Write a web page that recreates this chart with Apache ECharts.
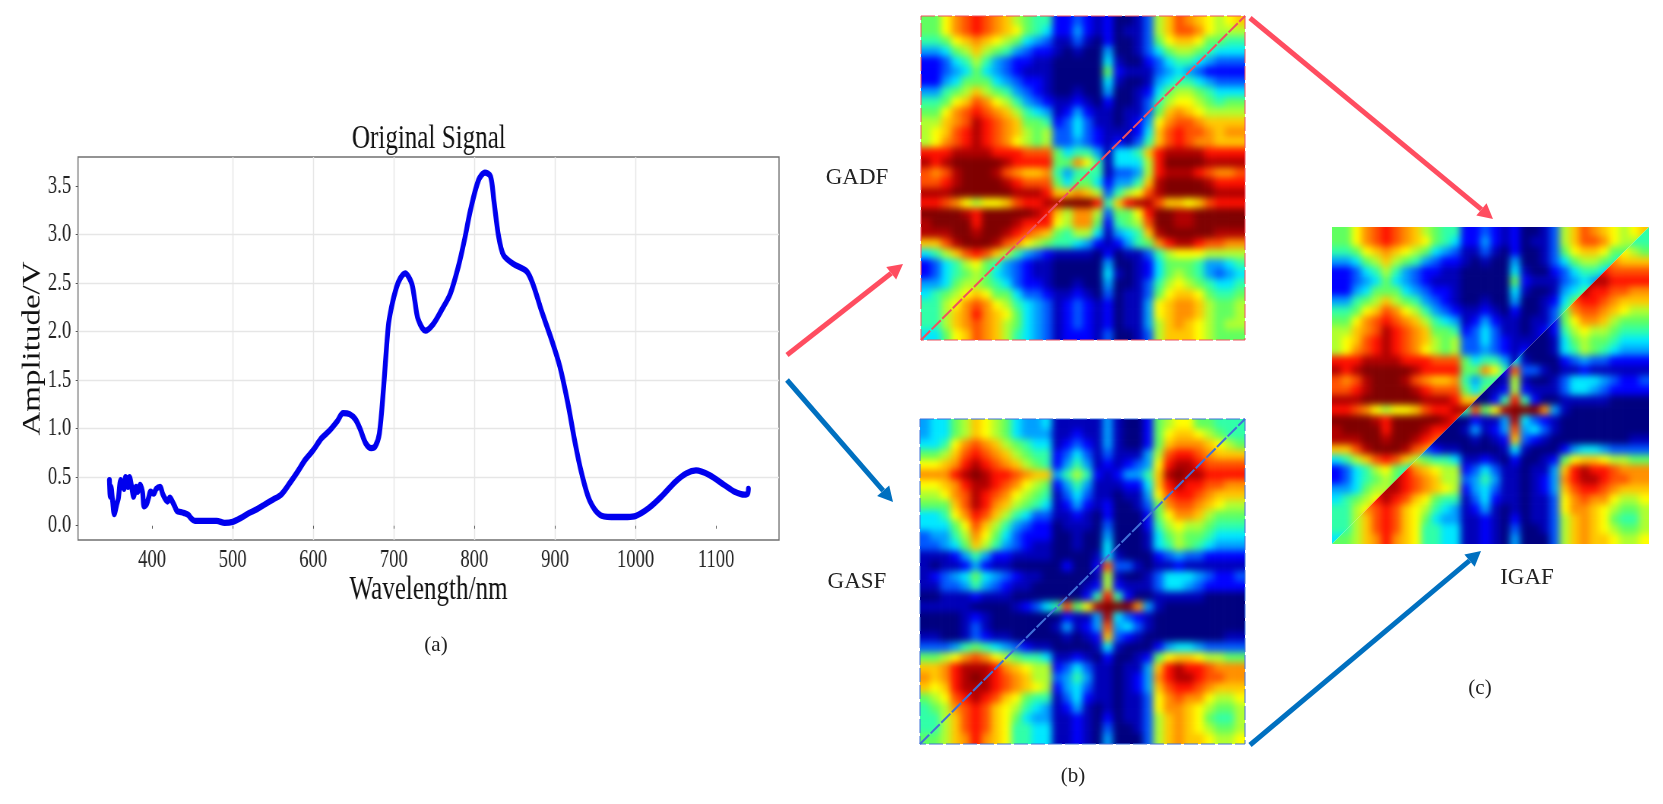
<!DOCTYPE html>
<html>
<head>
<meta charset="utf-8">
<script src="https://cdn.jsdelivr.net/npm/echarts@6/dist/echarts.min.js"></script>
<style>
html,body{margin:0;padding:0;background:#fff;width:1663px;height:804px;overflow:hidden}
.abs{position:absolute}
</style>
</head>
<body>
<div id="root" class="abs" style="left:0;top:0;width:1663px;height:804px"></div>
<script>
const wavelengths=[347,348,349,351,353,356,358,361,363,365,367,370,372,375,377,380,382,385,388,390,393,396,398,402,405,410,413,416,419,422,425,428,431,436,440,445,448,453,460,470,480,490,500,510,520,530,540,550,560,570,580,590,600,610,620,630,637,645,652,658,665,672,677,682,687,693,697,703,708,714,722,726,730,739,749,759,770,780,788,795,805,813,820,824,830,836,848,865,873,883,896,906,916,925,933,943,956,970,990,1000,1016,1032,1049,1063,1075,1092,1110,1123,1135,1139,1140];
const amplitudes=[0.47,0.30,0.40,0.25,0.12,0.22,0.28,0.47,0.42,0.38,0.50,0.40,0.50,0.38,0.30,0.40,0.35,0.42,0.35,0.20,0.22,0.30,0.35,0.33,0.38,0.40,0.33,0.28,0.25,0.29,0.25,0.20,0.15,0.14,0.13,0.11,0.08,0.05,0.05,0.05,0.05,0.03,0.04,0.08,0.13,0.17,0.22,0.27,0.32,0.43,0.55,0.68,0.78,0.90,0.98,1.08,1.16,1.15,1.10,1.00,0.85,0.80,0.82,0.95,1.40,2.05,2.25,2.45,2.55,2.60,2.50,2.32,2.13,2.01,2.08,2.22,2.39,2.67,2.96,3.25,3.56,3.64,3.60,3.36,2.98,2.79,2.70,2.62,2.48,2.22,1.91,1.64,1.26,0.85,0.54,0.26,0.11,0.09,0.09,0.10,0.18,0.30,0.45,0.54,0.57,0.52,0.42,0.35,0.32,0.33,0.38];
const xTicks=[400,500,600,700,800,900,1000,1100];
const yTicks=[0,0.5,1,1.5,2,2.5,3,3.5];
const gadfRows=[
"779bcdcb a8766223 21200138 acba989a",
"779bcdcb a9765224 21201138 accb9888",
"6679aba9 87543113 10200137 9aa97766",
"44578a87 64322101 00400135 78876555",
"22356864 32211000 00510023 56654333",
"22345754 32111000 00721113 45432222",
"22457775 43221000 00510014 56654333",
"44678a87 64321001 00400125 78876555",
"6679acb9 86432112 10200136 89987677",
"779bcdcb a8654124 21101137 aba98888",
"88abcedc ba776235 31101249 bccbaaaa",
"89acdedc ba878335 3211125a cdccbabb",
"89bcdedc b9878334 3212136a cdcbbaaa",
"dddeeeed ddccc756 641556ad eeeedddd",
"edefffff edddd77b 9615558d ffffeeee",
"cbcefffe cbaab646 6613348d eeedcbbc",
"ccdeffff edccc757 752446ae ffffeddd",
"eeefffff feeedaab a83689ce fffffeee",
"ddcb9899 acddeeff fd6adeec aa9acddd",
"ffffedff fffeda8b b83779df feefffff",
"effffdff feddd98b b72678cf feefffff",
"eeeffeff edcba768 851456ae fffffeee",
"aacefffe cb987665 4212467b deedccbb",
"568acdca 86432111 10201136 89998888",
"23568976 43211000 00400125 77764456",
"23567875 43211000 00510125 78764345",
"44578876 53221001 00400136 89876556",
"56789a97 75332112 10301137 9aa97667",
"6689bcb9 86543123 21201149 abba8778",
"668abdba 97543123 21201149 abba8778",
"668abcba 87543123 21201148 aba98788",
"5579acba 86543122 21300138 aaa98777"
];
const gasfRows=[
"45578a98 75445111 11410027 89977666",
"45578a98 75444112 11410027 9aa98766",
"5569bcba 87655123 21410027 abbba987",
"778acdcb a8766235 31311148 cddcbaaa",
"99abdedc ba876246 41212349 deedcccc",
"bbbdefed dcbaa468 6212446a efeedddd",
"99abdeed cb987246 4111225a deddccbb",
"889bcedc b9876135 31101149 cddcbaaa",
"777acedb a8765124 21200137 bccba988",
"5569bdca 86533112 10200027 9bba8777",
"55579ca8 64322011 10300026 89887666",
"34468b97 53222001 00400015 78776555",
"33457a86 43211001 00500015 68765444",
"11124642 21111000 01510002 34332222",
"10112421 10000020 02c33101 12111111",
"12345754 32110000 01810013 55543223",
"11334643 21100000 12821113 55432222",
"00111211 10000000 26d62001 11110000",
"11111000 012356c7 9efffb41 00000000",
"00001210 00000021 14e53210 00000000",
"00001310 00000141 24c45310 00000000",
"11001321 10000010 12a32100 00000011",
"33346765 43211000 01510002 45543333",
"7789bcb9 87665112 10200127 9aa98877",
"aabdeeed ba988235 3110114a deddcbbb",
"babdefed cba88346 4110124b deedccbb",
"a9adeeed cba98245 3110124a cddcbaaa",
"789cdedc a9766135 21101139 bcbb9889",
"678bcdca 98654124 10101139 bba98778",
"668acdca 97544112 10201138 aba97668",
"668acdca 96655112 10300138 aba98778",
"778abdba 96655112 10400038 abaa9889"
];
const JET=['#00007f','#0000b8','#0000ff','#0058ff','#00a0ff','#00e8ff','#30ffa8','#60ff60','#b0ff30','#ffff00','#ffc800','#ff9000','#ff5000','#ff1000','#b00000','#7f0000'];

const num=s=>s.replace(/\s/g,'').split('').map(c=>parseInt(c,16));
const root=document.getElementById('root');

function heat(left,top,size,rows,clip){
  const cell=size/32, big=cell*34;
  const w=document.createElement('div');
  w.className='abs';
  w.style.cssText=`left:${left}px;top:${top}px;width:${size}px;height:${size}px;overflow:hidden;`+(clip?`clip-path:polygon(${clip});`:'');
  const c=document.createElement('div');
  c.className='abs';
  c.style.cssText=`left:${-cell}px;top:${-cell}px;width:${big}px;height:${big}px;filter:blur(3.9px);`;
  w.appendChild(c);root.appendChild(w);
  const m=rows.map(num);
  const data=[];
  for(let r=-1;r<=32;r++)for(let k=-1;k<=32;k++){
    const rr=Math.min(31,Math.max(0,r)),kk=Math.min(31,Math.max(0,k));
    data.push([k+1,r+1,m[rr][kk]]);
  }
  const cats=Array.from({length:34},(_,i)=>i);
  const ch=echarts.init(c,null,{renderer:'canvas'});
  ch.setOption({animation:false,
    grid:{left:0,right:0,top:0,bottom:0},
    xAxis:{type:'category',data:cats,show:false},
    yAxis:{type:'category',data:cats,show:false,inverse:true},
    visualMap:{show:false,min:0,max:15,inRange:{color:JET}},
    series:[{type:'heatmap',data,progressive:0,itemStyle:{borderWidth:0}}]});
}
const B={left:921,top:16,size:324},S={left:920,top:419,size:325},I={left:1332,top:227,size:317};
heat(B.left,B.top,B.size,gadfRows);
heat(S.left,S.top,S.size,gasfRows);
heat(I.left,I.top,I.size,gadfRows,'0 0,100% 0,0 100%');
heat(I.left,I.top,I.size,gasfRows,'100% 0,100% 100%,0 100%');

// signal chart, condensed horizontally like the reference
const SX=0.76;
const sig=document.createElement('div');
sig.className='abs';
sig.style.cssText=`left:0;top:0;width:${Math.round(780*1.2/SX)}px;height:804px;transform-origin:0 0;transform:scaleX(${SX});`;
root.appendChild(sig);
const serif='"Liberation Serif","Times New Roman",serif';
const sc=echarts.init(sig);
const axisCommon={axisLine:{show:false},
  splitLine:{show:true,showMinLine:false,showMaxLine:false,lineStyle:{color:'#e6e6e6',width:1.4}}};
sc.setOption({animation:false,
  title:{text:'Original Signal',left:425/SX,top:118,textAlign:'center',textStyle:{fontFamily:serif,fontSize:33,fontWeight:'normal',color:'#111'}},
  grid:{left:78/SX,top:157,width:701/SX,height:383,show:true,borderColor:'#707070',borderWidth:1.5,backgroundColor:'#fff'},
  xAxis:{type:'value',min:308,max:1178,name:'Wavelength/nm',nameLocation:'middle',nameGap:34,
    nameTextStyle:{fontFamily:serif,fontSize:33,color:'#111'},...axisCommon,
    axisTick:{show:true,length:3,lineStyle:{color:'#555'},customValues:xTicks},
    axisLabel:{fontFamily:serif,fontSize:24.5,color:'#222',margin:8,customValues:xTicks,formatter:v=>String(v)}},
  yAxis:{type:'value',min:-0.147,max:3.8,name:'Amplitude/V',nameLocation:'middle',nameGap:43,nameMoveOverlap:false,
    nameTextStyle:{fontFamily:serif,fontSize:33,color:'#111'},...axisCommon,
    axisTick:{show:true,length:3,lineStyle:{color:'#555'},customValues:yTicks},
    axisLabel:{fontFamily:serif,fontSize:24.5,color:'#222',margin:9,customValues:yTicks,formatter:v=>v.toFixed(1)}},
  series:[{type:'line',data:wavelengths.map((x,i)=>[x,amplitudes[i]]),showSymbol:false,smooth:0.3,clip:false,
    lineStyle:{color:'#0000ee',width:6.3,join:'round',cap:'round'}}]});

// overlay: arrows, diagonals, borders, captions
const ov=document.createElement('div');
ov.className='abs';
ov.style.cssText='left:0;top:0;width:1663px;height:804px;pointer-events:none;';
root.appendChild(ov);
const RED='#ff4d60',BLUE='#0070c0';
function arrow(x0,y0,x1,y1,col){
  const L=Math.hypot(x1-x0,y1-y0),ux=(x1-x0)/L,uy=(y1-y0)/L,px=-uy,py=ux,h=15,w=8;
  const bx=x1-ux*h,by=y1-uy*h;
  return [
   {type:'line',shape:{x1:x0,y1:y0,x2:bx,y2:by},style:{stroke:col,lineWidth:5},z:5},
   {type:'polygon',shape:{points:[[x1,y1],[bx+px*w,by+py*w],[bx-px*w,by-py*w]]},style:{fill:col},z:5}];
}
function txt(t,cx,cy,fs){return {type:'text',x:cx,y:cy,z:6,style:{text:t,fontFamily:serif,fontSize:fs,fill:'#222',align:'center',verticalAlign:'middle'}};}
function frame(b,col){return [
  {type:'rect',shape:{x:b.left,y:b.top,width:b.size,height:b.size},style:{fill:'none',stroke:col,lineWidth:1,lineDash:[14,3]},z:4},
  {type:'line',shape:{x1:b.left,y1:b.top+b.size,x2:b.left+b.size,y2:b.top},style:{stroke:col,lineWidth:2,lineDash:[13,2]},z:4}];}
const oc=echarts.init(ov);
oc.setOption({animation:false,graphic:{elements:[
  ...arrow(787,355,903,264,RED),...arrow(787,380,893,502,BLUE),
  ...arrow(1250,18,1493,219,RED),...arrow(1250,745,1481,551,BLUE),
  ...frame(B,'#f0505f'),...frame(S,'#4070d8'),
  txt('GADF',857,178,23),txt('GASF',857,582,23),txt('IGAF',1527,578,23),
  txt('(a)',436,645,21),txt('(b)',1073,776,21),txt('(c)',1480,688,21)
]}});
</script>
</body>
</html>
